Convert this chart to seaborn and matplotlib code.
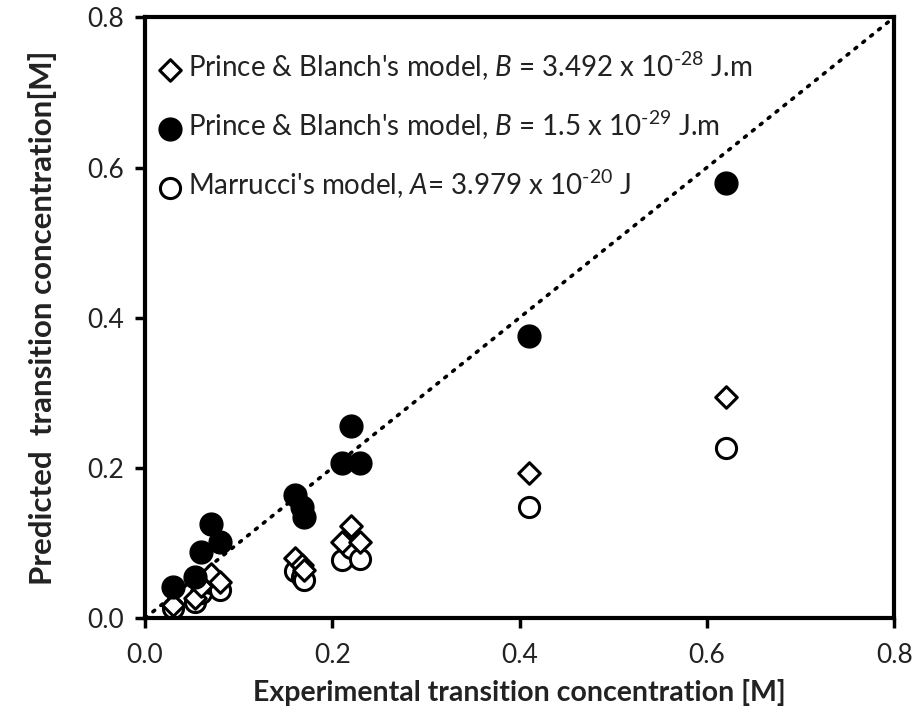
import matplotlib
matplotlib.use("Agg")
import matplotlib.pyplot as plt
import seaborn as sns
import pandas as pd

# ---- data ----
exp_conc = [0.03, 0.053, 0.06, 0.07, 0.08, 0.16, 0.168, 0.17, 0.21, 0.22, 0.23, 0.41, 0.62]
pb_B_large = [0.018, 0.027, 0.042, 0.058, 0.048, 0.080, 0.071, 0.064, 0.101, 0.123, 0.101, 0.193, 0.295]
pb_B_small = [0.041, 0.055, 0.088, 0.125, 0.101, 0.164, 0.148, 0.135, 0.207, 0.256, 0.207, 0.375, 0.579]
marrucci = [0.014, 0.021, 0.034, 0.046, 0.037, 0.062, 0.055, 0.050, 0.077, 0.093, 0.078, 0.148, 0.227]
parity_x = [0.0, 0.8]
parity_y = [0.0, 0.8]
x_ticks = [0.0, 0.2, 0.4, 0.6, 0.8]
y_ticks = [0.0, 0.2, 0.4, 0.6, 0.8]
label_diamond = r"Prince & Blanch's model, $\mathit{B}$ = 3.492 x 10$^{\text{-28}}$ J.m"
label_filled = r"Prince & Blanch's model, $\mathit{B}$ = 1.5 x 10$^{\text{-29}}$ J.m"
label_open = r"Marrucci's model, $\mathit{A}$= 3.979 x 10$^{\text{-20}}$ J"
x_label = "Experimental transition concentration [M]"
y_label = "Predicted  transition concentration[M]"

sns.set_theme(style="white")
plt.rcParams["font.family"] = ["Lato", "DejaVu Sans"]
plt.rcParams["mathtext.fontset"] = "custom"
plt.rcParams["mathtext.rm"] = "Lato"
plt.rcParams["mathtext.it"] = "Lato:italic"
plt.rcParams["mathtext.bf"] = "Lato:bold"

fig = plt.figure(figsize=(9.18, 7.22), dpi=100)
ax = fig.add_axes([0.158, 0.144, 0.816, 0.832])

df = pd.DataFrame({"x": exp_conc, "d": pb_B_large, "f": pb_B_small, "o": marrucci})

ax.plot(parity_x, parity_y, color="black", linestyle=(0, (0.6, 2.2)), linewidth=2.6,
        dash_capstyle="round", zorder=1)

sns.scatterplot(data=df, x="x", y="d", ax=ax, marker="D", s=120, facecolor="white",
                edgecolor="black", linewidth=2.2, label=label_diamond, zorder=3)
sns.scatterplot(data=df, x="x", y="f", ax=ax, marker="o", s=270, color="black",
                edgecolor="black", linewidth=1, label=label_filled, zorder=4)
sns.scatterplot(data=df, x="x", y="o", ax=ax, marker="o", s=210, facecolor="white",
                edgecolor="black", linewidth=2.2, label=label_open, zorder=2)

ax.set_xlim(0, 0.8)
ax.set_ylim(0, 0.8)
ax.set_xticks(x_ticks)
ax.set_yticks(y_ticks)
ax.set_xticklabels([f"{v:.1f}" for v in x_ticks], fontsize=19)
ax.set_yticklabels([f"{v:.1f}" for v in y_ticks], fontsize=19)
ax.tick_params(axis="both", direction="out", length=7, width=2.5, color="black",
               bottom=True, left=True, labelcolor="#222222")
ax.tick_params(axis="x", pad=11)
ax.tick_params(axis="y", pad=8)
for sp in ax.spines.values():
    sp.set_linewidth(3)
    sp.set_color("black")
    sp.set_visible(True)

ax.set_xlabel(x_label, fontsize=20.5, fontweight="bold", color="#222222", labelpad=8)
ax.set_ylabel(y_label, fontsize=22.5, fontweight="bold", color="#222222", labelpad=22)

leg = ax.legend(loc="upper left", frameon=False, fontsize=20, labelspacing=0.93,
                handletextpad=0.1, handlelength=1.1, borderaxespad=0.3,
                bbox_to_anchor=(-0.013, 0.978))
for t in leg.get_texts():
    t.set_color("#222222")

fig.savefig("out.png", dpi=100)
